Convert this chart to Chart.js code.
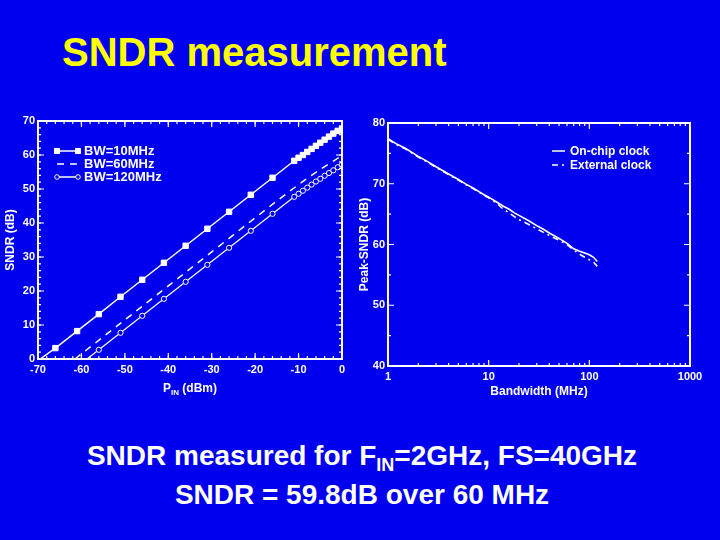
<!DOCTYPE html>
<html>
<head>
<meta charset="utf-8">
<script src="https://cdn.jsdelivr.net/npm/chart.js@4.4.1/dist/chart.umd.min.js"></script>
<style>
  html, body { margin: 0; padding: 0; }
  body { width: 720px; height: 540px; background: #0000EE; position: relative; overflow: hidden;
         font-family: "Liberation Sans", Arial, sans-serif; }
  #title { position: absolute; left: 62px; top: 32px; font-size: 40px; line-height: 40px; font-weight: bold; color: #FFFF00; white-space: nowrap; }
  #caption { position: absolute; left: 0; top: 438px; width: 724px; text-align: center; color: #fff;
             font-size: 28px; line-height: 35px; font-weight: bold; white-space: nowrap; }
  #caption .sub { font-size: 18px; position: relative; top: 6px; }
  #c1 { position: absolute; left: 0; top: 100px; }
  #c2 { position: absolute; left: 355px; top: 100px; }
</style>
</head>
<body>
<div id="title">SNDR measurement</div>
<canvas id="c1" width="355" height="300"></canvas>
<canvas id="c2" width="365" height="300"></canvas>
<div id="caption">SNDR measured for F<span class="sub">IN</span>=2GHz, FS=40GHz<br>SNDR = 59.8dB over 60 MHz</div>
<script>
// ---------- Data: left chart (SNDR vs input power) ----------
const pinBW10  = [-69.5, -66, -61, -56, -51, -46, -41, -36, -31, -26, -21, -16, -11, -10, -9, -8, -7, -6, -5, -4, -3, -2, -1, 0];
const sndrBW10 = [0, 3.2, 8.2, 13.2, 18.3, 23.3, 28.3, 33.3, 38.3, 43.3, 48.3, 53.3, 58.3, 59.2, 60.0, 60.9, 61.8, 62.7, 63.6, 64.5, 65.4, 66.3, 67.1, 67.8];
const pinBW60  = [-61.5, -55, -50, -45, -40, -35, -30, -25, -20, -15, -10, -8, -6, -4, -2, 0];
const sndrBW60 = [0, 6.5, 11.5, 16.5, 21.5, 26.5, 31.5, 36.5, 41.5, 46.5, 51.3, 53.1, 54.9, 56.6, 58.2, 59.8];
const pinBW120  = [-58.7, -56, -51, -46, -41, -36, -31, -26, -21, -16, -11, -10, -9, -8, -7, -6, -5, -4, -3, -2, -1, 0];
const sndrBW120 = [0, 2.7, 7.7, 12.7, 17.7, 22.7, 27.7, 32.7, 37.7, 42.7, 47.7, 48.6, 49.5, 50.4, 51.3, 52.2, 53.0, 53.9, 54.7, 55.5, 56.4, 57.2];
const seriesLeft = ["BW=10MHz", "BW=60MHz", "BW=120MHz"];

// ---------- Data: right chart (peak SNDR vs bandwidth) ----------
const bandwidth = [1, 1.2, 1.5, 2, 2.5, 3, 4, 5, 6, 7, 8, 9, 10, 12, 14, 16, 18, 20, 25, 30, 35, 40, 50, 60, 70, 80, 90, 100, 110, 120];
const onChip    = [77.4, 76.6, 75.8, 74.5, 73.6, 72.8, 71.6, 70.7, 69.9, 69.3, 68.7, 68.2, 67.8, 67.0, 66.3, 65.8, 65.2, 64.8, 63.9, 63.1, 62.5, 61.9, 61.0, 60.2, 59.3, 58.9, 58.6, 58.3, 57.9, 57.2];
const external  = [77.3, 76.5, 75.7, 74.4, 73.5, 72.7, 71.5, 70.6, 69.8, 69.2, 68.6, 68.1, 67.7, 66.8, 65.8, 65.2, 64.6, 64.1, 63.3, 62.6, 62.0, 61.5, 60.7, 60.0, 59.1, 58.4, 57.9, 57.5, 57.1, 56.4];
const seriesRight = ["On-chip clock", "External clock"];

// ---------- Axis tick values ----------
const leftXMajor = [-70, -60, -50, -40, -30, -20, -10, 0];
const leftYMajor = [0, 10, 20, 30, 40, 50, 60, 70];
const rightXMajor = [1, 10, 100, 1000];
const rightYMajor = [40, 50, 60, 70, 80];

const BG = '#0000EE';
const WHITE = '#ffffff';
const FONT = '"Liberation Sans", Arial, sans-serif';

function stepVals(a, b, s) { const r = []; for (let v = a; v <= b + 1e-9; v += s) r.push(+v.toFixed(6)); return r; }
function logMinor(majors) { const r = []; for (let i = 0; i < majors.length - 1; i++) for (let k = 2; k <= 9; k++) r.push(majors[i] * k); return r; }
const pairs = (xs, ys) => xs.map((x, i) => ({ x, y: ys[i] }));

// Frame with inward ticks on all four sides
const frameTicks = {
  id: 'frameTicks',
  afterDatasetsDraw(chart, args, o) {
    const { ctx, chartArea: a, scales } = chart;
    ctx.save();
    ctx.strokeStyle = WHITE;
    ctx.lineWidth = 1.2;
    const xt = (vals, len) => vals.forEach(v => {
      const px = scales.x.getPixelForValue(v);
      if (px < a.left - 0.5 || px > a.right + 0.5) return;
      ctx.beginPath();
      ctx.moveTo(px, a.bottom); ctx.lineTo(px, a.bottom - len);
      ctx.moveTo(px, a.top); ctx.lineTo(px, a.top + len);
      ctx.stroke();
    });
    const yt = (vals, len) => vals.forEach(v => {
      const py = scales.y.getPixelForValue(v);
      if (py < a.top - 0.5 || py > a.bottom + 0.5) return;
      ctx.beginPath();
      ctx.moveTo(a.left, py); ctx.lineTo(a.left + len, py);
      ctx.moveTo(a.right, py); ctx.lineTo(a.right - len, py);
      ctx.stroke();
    });
    xt(o.xMinor, 3); xt(o.xMajor, 6);
    yt(o.yMinor, 3); yt(o.yMajor, 6);
    ctx.lineWidth = 2;
    ctx.strokeRect(a.left, a.top, a.right - a.left, a.bottom - a.top);
    ctx.restore();
  }
};

// Legend drawn inside the plot area from the datasets
const inLegend = {
  id: 'inLegend',
  afterDraw(chart, args, o) {
    const { ctx } = chart;
    ctx.save();
    chart.data.datasets.forEach((ds, i) => {
      const y = o.rows[i];
      ctx.strokeStyle = WHITE;
      ctx.lineWidth = 1.5;
      ctx.setLineDash(ds.borderDash || []);
      ctx.beginPath(); ctx.moveTo(o.x0, y); ctx.lineTo(o.x1, y); ctx.stroke();
      ctx.setLineDash([]);
      if (ds.legendMarker) {
        ctx.fillStyle = ds.pointBackgroundColor;
        ctx.strokeStyle = ds.pointBorderColor;
        ctx.lineWidth = ds.pointBorderWidth;
        [o.x0, o.x1].forEach(px => {
          Chart.helpers.drawPoint(ctx, { pointStyle: ds.pointStyle, radius: ds.legendRadius, borderWidth: ds.pointBorderWidth, rotation: 0 }, px, y);
        });
      }
      ctx.fillStyle = WHITE;
      ctx.font = 'bold ' + o.fontSize + 'px ' + FONT;
      ctx.textBaseline = 'middle';
      ctx.textAlign = 'left';
      ctx.fillText(ds.label, o.textX, y + 0.5);
    });
    ctx.restore();
  }
};

// x-axis title with a subscript (P_IN (dBm))
const subTitle = {
  id: 'subTitle',
  afterDraw(chart, args, o) {
    if (!o.parts) return;
    const { ctx } = chart;
    ctx.save();
    ctx.fillStyle = WHITE;
    ctx.textBaseline = 'alphabetic';
    let w = 0;
    o.parts.forEach(p => { ctx.font = 'bold ' + p.size + 'px ' + FONT; p.w = ctx.measureText(p.text).width; w += p.w; });
    let x = o.cx - w / 2;
    o.parts.forEach(p => { ctx.font = 'bold ' + p.size + 'px ' + FONT; ctx.fillText(p.text, x, o.baseline + (p.dy || 0)); x += p.w; });
    ctx.restore();
  }
};

function tickFont(size) { return { family: FONT, size, weight: 'bold' }; }

// ---------- Left chart ----------
new Chart(document.getElementById('c1'), {
  type: 'line',
  data: {
    datasets: [
      { label: seriesLeft[0], data: pairs(pinBW10, sndrBW10), borderColor: WHITE, borderWidth: 1.5,
        pointStyle: 'rect', pointRadius: c => c.dataIndex === 0 ? 0 : 3.8, pointBackgroundColor: WHITE, pointBorderColor: WHITE, pointBorderWidth: 1,
        legendMarker: true, legendRadius: 3.6 },
      { label: seriesLeft[1], data: pairs(pinBW60, sndrBW60), borderColor: WHITE, borderWidth: 1.5, borderDash: [7, 6],
        pointRadius: 0 },
      { label: seriesLeft[2], data: pairs(pinBW120, sndrBW120), borderColor: WHITE, borderWidth: 1.2,
        pointStyle: 'circle', pointRadius: c => c.dataIndex === 0 ? 0 : 2.6, pointBackgroundColor: BG, pointBorderColor: WHITE, pointBorderWidth: 1,
        legendMarker: true, legendRadius: 2.3 }
    ]
  },
  options: {
    responsive: false, animation: false, devicePixelRatio: 1,
    layout: { padding: { top: 21, right: 13, left: 0, bottom: 0 } },
    scales: {
      x: { type: 'linear', min: -70, max: 0,
        afterBuildTicks: s => { s.ticks = leftXMajor.map(v => ({ value: v })); },
        afterFit: s => { s.height = 41; },
        ticks: { color: WHITE, font: tickFont(11), padding: 4, autoSkip: false, maxRotation: 0, callback: v => String(v) },
        grid: { display: false, drawTicks: false }, border: { display: false } },
      y: { min: 0, max: 70,
        afterBuildTicks: s => { s.ticks = leftYMajor.map(v => ({ value: v })); },
        afterFit: s => { s.width = 38; },
        ticks: { color: WHITE, font: tickFont(11), padding: 3, callback: v => String(v) },
        grid: { display: false, drawTicks: false }, border: { display: false },
        title: { display: true, text: 'SNDR (dB)', color: WHITE, font: tickFont(12), padding: { top: 3, bottom: 0 } } }
    },
    plugins: {
      legend: { display: false }, tooltip: { enabled: false },
      frameTicks: { xMajor: leftXMajor, xMinor: stepVals(-70, 0, 2), yMajor: leftYMajor, yMinor: stepVals(0, 70, 2) },
      inLegend: { x0: 57, x1: 78, textX: 84, rows: [51, 64, 77], fontSize: 13 },
      subTitle: { cx: 190, baseline: 292, parts: [ { text: 'P', size: 12 }, { text: 'IN', size: 8, dy: 3 }, { text: ' (dBm)', size: 12 } ] }
    }
  },
  plugins: [frameTicks, inLegend, subTitle]
});

// ---------- Right chart ----------
new Chart(document.getElementById('c2'), {
  type: 'line',
  data: {
    datasets: [
      { label: seriesRight[0], data: pairs(bandwidth, onChip), borderColor: WHITE, borderWidth: 1.6, pointRadius: 0 },
      { label: seriesRight[1], data: pairs(bandwidth, external), borderColor: WHITE, borderWidth: 1.6, borderDash: [6, 4, 2, 4], pointRadius: 0 }
    ]
  },
  options: {
    responsive: false, animation: false, devicePixelRatio: 1,
    layout: { padding: { top: 23, right: 30, left: 0, bottom: 0 } },
    scales: {
      x: { type: 'logarithmic', min: 1, max: 1000,
        afterBuildTicks: s => { s.ticks = rightXMajor.map(v => ({ value: v })); },
        afterFit: s => { s.height = 34; },
        ticks: { color: WHITE, font: tickFont(11), padding: 4, autoSkip: false, maxRotation: 0, callback: v => String(v) },
        grid: { display: false, drawTicks: false }, border: { display: false },
        title: { display: true, text: 'Bandwidth (MHz)', color: WHITE, font: tickFont(12), padding: { top: 0, bottom: 1 } } },
      y: { min: 40, max: 80,
        afterBuildTicks: s => { s.ticks = rightYMajor.map(v => ({ value: v })); },
        afterFit: s => { s.width = 33; },
        ticks: { color: WHITE, font: tickFont(11), padding: 3, callback: v => String(v) },
        grid: { display: false, drawTicks: false }, border: { display: false },
        title: { display: true, text: 'Peak-SNDR (dB)', color: WHITE, font: tickFont(12), padding: { top: 2, bottom: 0 } } }
    },
    plugins: {
      legend: { display: false }, tooltip: { enabled: false },
      frameTicks: { xMajor: rightXMajor, xMinor: logMinor(rightXMajor), yMajor: rightYMajor, yMinor: stepVals(45, 75, 10) },
      inLegend: { x0: 197, x1: 210, textX: 215, rows: [51, 65], fontSize: 12 }
    }
  },
  plugins: [frameTicks, inLegend]
});
</script>
</body>
</html>
